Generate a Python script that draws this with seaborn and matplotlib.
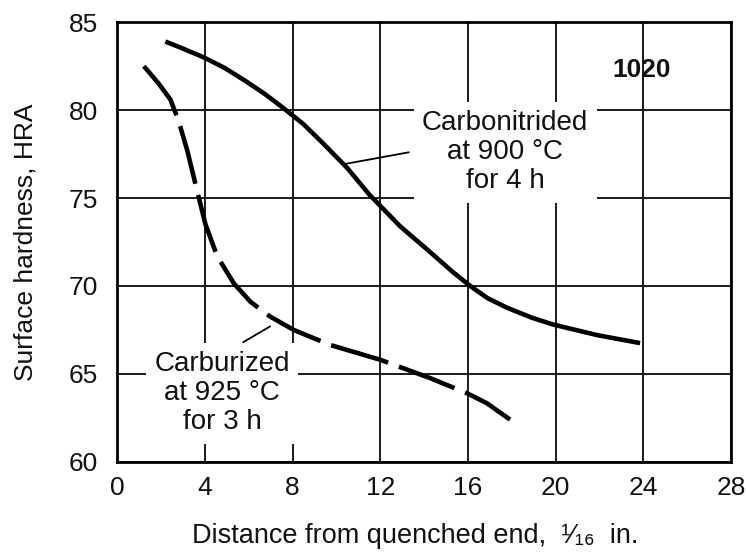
import numpy as np
import pandas as pd
import matplotlib
matplotlib.use('Agg')
import matplotlib.pyplot as plt
import seaborn as sns

# values
carbonitrided_x = [2.2, 3.0, 3.95, 4.9, 5.8, 6.7, 7.6, 8.5, 9.4, 10.5, 11.5, 12.9,
                   14.3, 15.3, 16.1, 16.9, 17.8, 18.9, 19.9, 21.9, 23.85]
carbonitrided_y = [83.9, 83.5, 83.0, 82.4, 81.7, 80.95, 80.1, 79.2, 78.1, 76.7, 75.2, 73.4,
                   71.9, 70.8, 70.0, 69.3, 68.75, 68.2, 67.8, 67.2, 66.75]
carburized_x = [1.22, 1.9, 2.43, 2.8, 3.2, 3.65, 4.03, 4.56, 5.32, 6.08, 6.99, 8.05,
                9.7, 12.0, 14.27, 15.95, 16.86, 17.92]
carburized_y = [82.5, 81.5, 80.6, 79.4, 77.7, 75.4, 73.5, 71.7, 70.15, 69.1, 68.25, 67.5,
                66.65, 65.8, 64.76, 63.9, 63.33, 62.4]
x_ticks = [0, 4, 8, 12, 16, 20, 24, 28]
y_ticks = [60, 65, 70, 75, 80, 85]

df_cn = pd.DataFrame({'dist': carbonitrided_x, 'hra': carbonitrided_y})
df_cb = pd.DataFrame({'dist': carburized_x, 'hra': carburized_y})

sns.set_style('white')
plt.rcParams['font.family'] = ['Liberation Sans', 'DejaVu Sans']

fig = plt.figure(figsize=(7.46, 5.55), dpi=100)
ax = fig.add_axes([0.157, 0.168, 0.823, 0.792])

sns.lineplot(data=df_cn, x='dist', y='hra', color='black', linewidth=3.3, ax=ax,
             sort=False, solid_capstyle='butt', solid_joinstyle='round')
sns.lineplot(data=df_cb, x='dist', y='hra', color='black', linewidth=3.3, ax=ax,
             sort=False, linestyle=(0, (13, 2.5)), dash_capstyle='butt',
             dash_joinstyle='round')

ax.set_xlim(0, 28)
ax.set_ylim(60, 85)
ax.set_xticks(x_ticks)
ax.set_yticks(y_ticks)
ax.grid(True, color='#1a1a1a', linewidth=1.4)
ax.set_axisbelow(True)
for s in ax.spines.values():
    s.set_color('black')
    s.set_linewidth(2)
ax.tick_params(length=0, labelsize=19, colors='#111111')
ax.tick_params(axis='y', pad=14)
ax.tick_params(axis='x', pad=10)

ax.set_ylabel('Surface hardness, HRA', fontsize=19, color='#111111')
ax.set_xlabel('Distance from quenched end,  \u00b9\u2044\u2081\u2086  in.', fontsize=19.5,
              color='#111111')
ax.yaxis.set_label_coords(-0.13, 0.5)
ax.xaxis.set_label_coords(0.485, -0.14)

box = dict(facecolor='white', edgecolor='none', pad=6)
ax.text(17.7, 77.6, 'Carbonitrided\nat 900 \u00b0C\nfor 4 h', ha='center', va='center',
        fontsize=20, linespacing=1.15, color='#111111', bbox=box, zorder=3)
ax.text(4.8, 63.9, 'Carburized\nat 925 \u00b0C\nfor 3 h', ha='center', va='center',
        fontsize=20, linespacing=1.15, color='#111111', bbox=box, zorder=3)
ax.text(23.9, 82.3, '1020', ha='center', va='center', fontsize=19, fontweight='bold',
        color='#111111')

# leader lines
ax.plot([10.45, 13.3], [76.95, 77.6], color='black', linewidth=1.3, zorder=4)
ax.plot([5.75, 6.98], [66.8, 67.7], color='black', linewidth=1.3, zorder=4)

fig.savefig('out.png', dpi=100, facecolor='white')
